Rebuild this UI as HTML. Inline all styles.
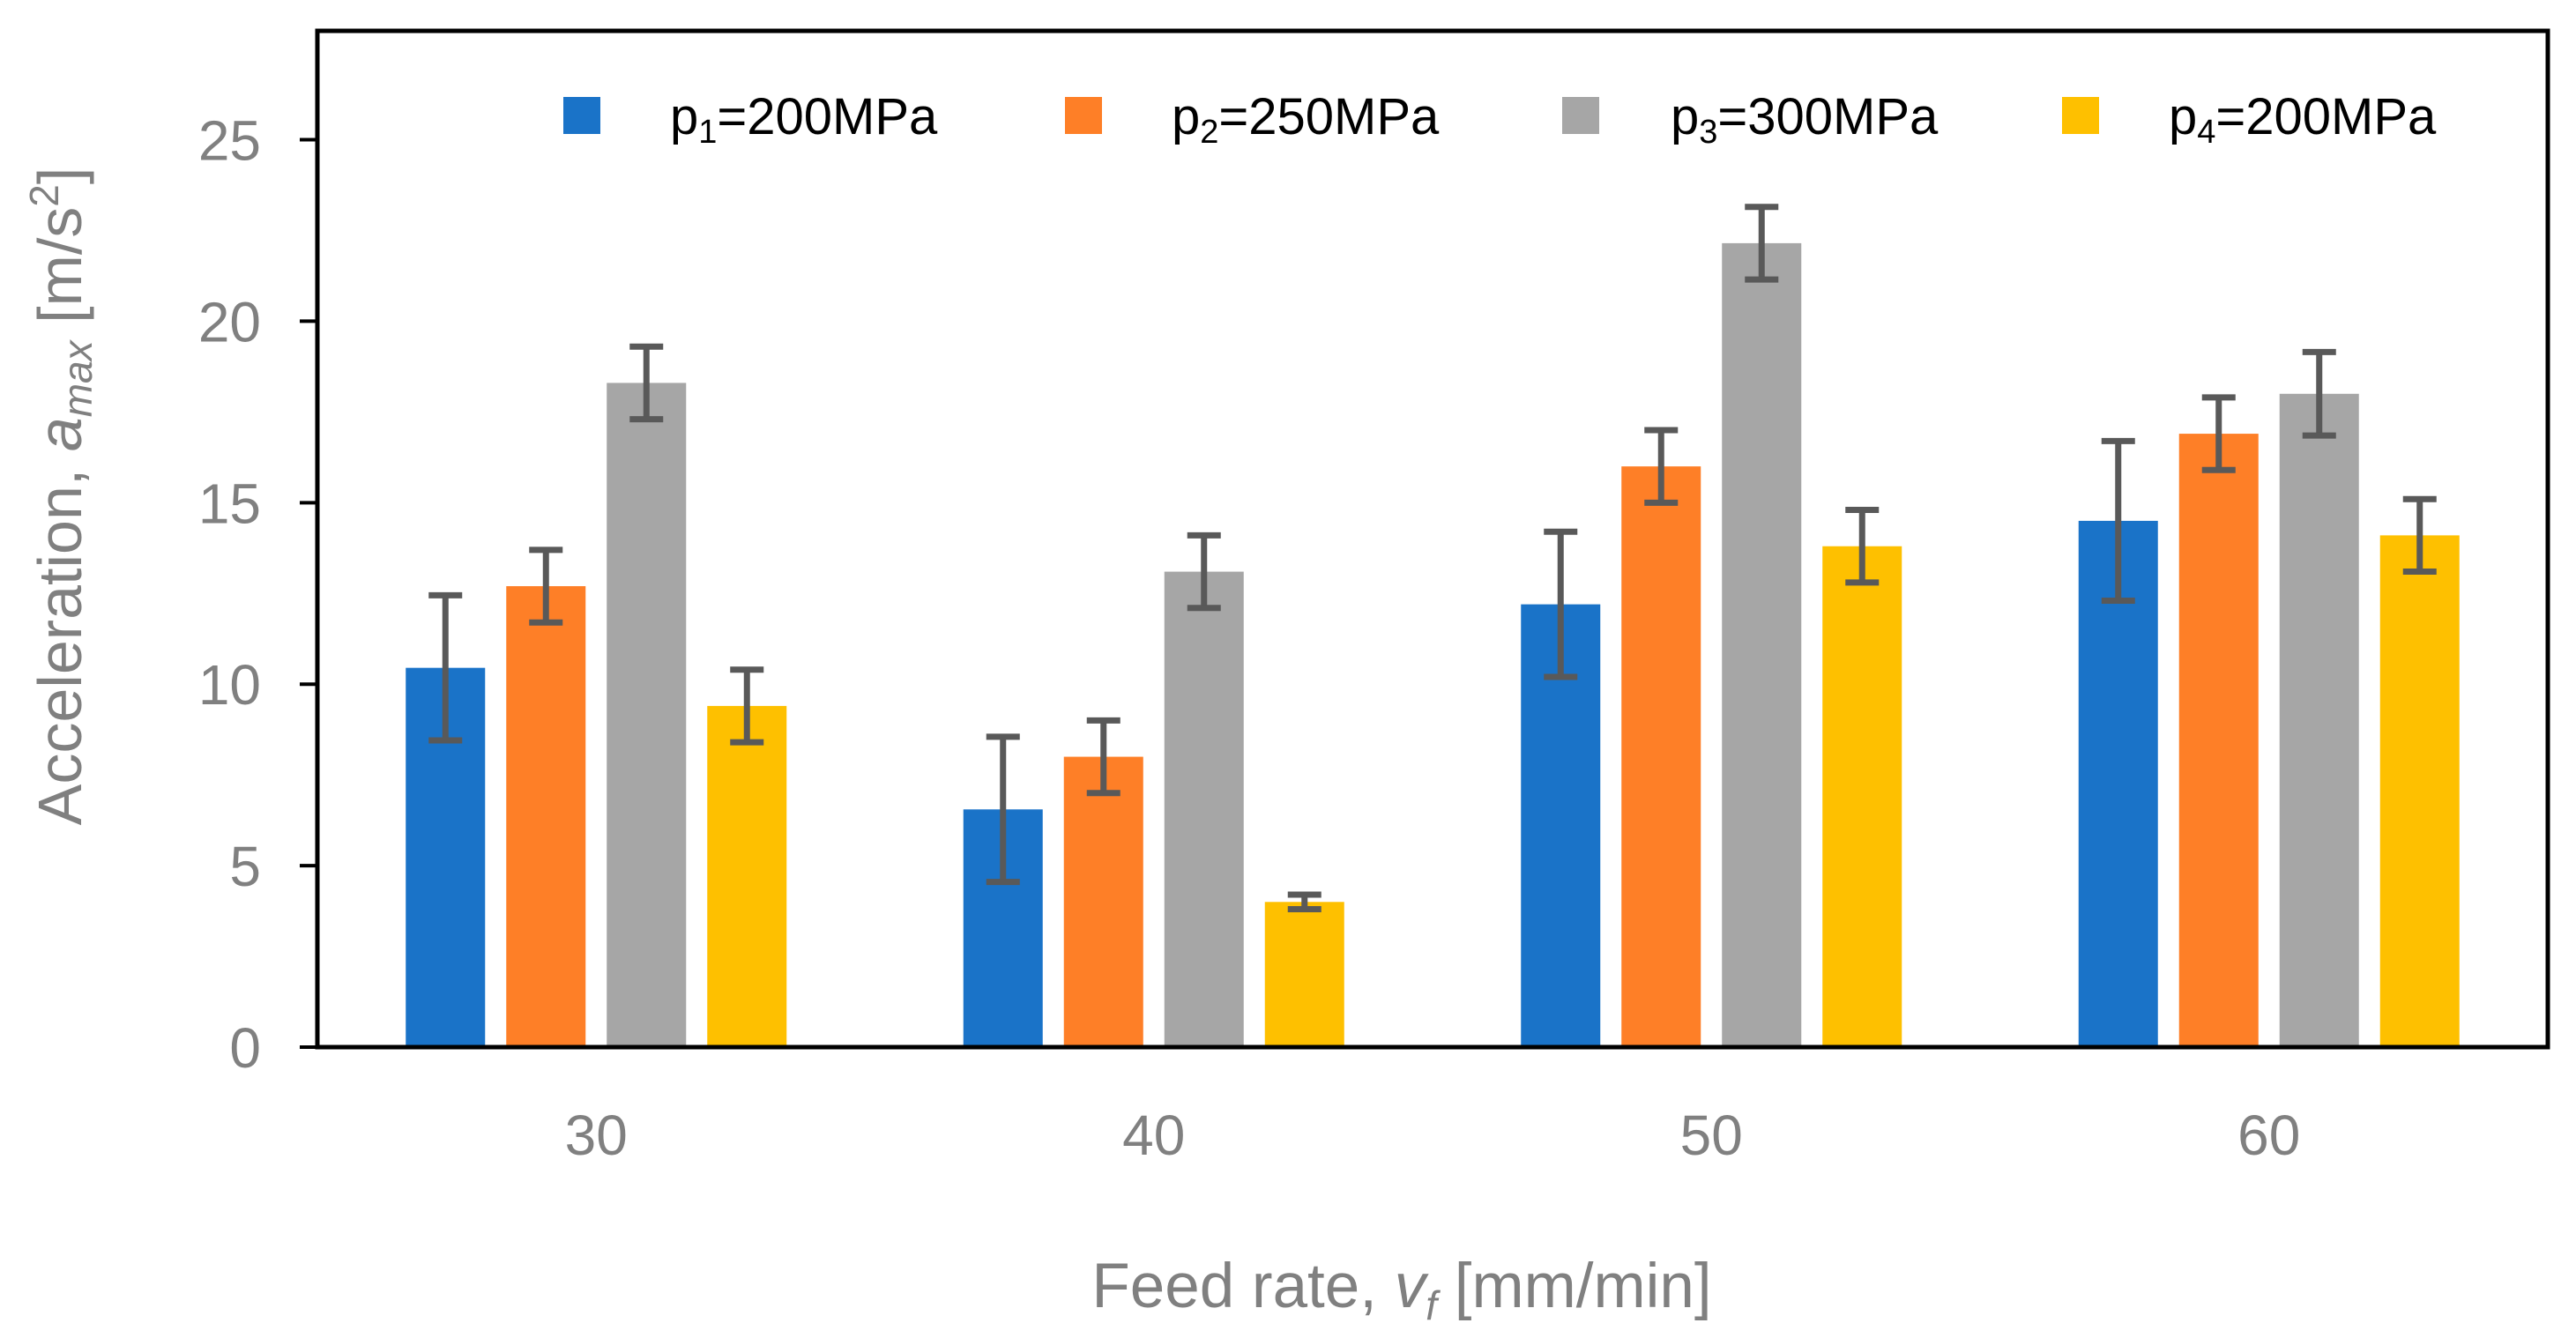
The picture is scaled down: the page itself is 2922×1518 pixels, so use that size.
<!DOCTYPE html>
<html><head><meta charset="utf-8"><style>
html,body{margin:0;padding:0;background:#fff;}
svg{display:block;font-family:"Liberation Sans",sans-serif;}
</style></head><body>
<svg id="chart" width="2922" height="1518" viewBox="0 0 2922 1518" xmlns="http://www.w3.org/2000/svg">
<g id="bars"></g>
<g id="errs"></g>
<g id="axes"></g>
<g id="legend"></g>
<text transform="translate(92,563) rotate(-90)" text-anchor="middle" font-size="70" fill="#808080">Acceleration, <tspan font-style="italic">a</tspan><tspan font-style="italic" font-size="46" dy="12">max</tspan><tspan dy="-12"> [m/s</tspan><tspan font-size="46" dy="-26">2</tspan><tspan dy="26">]</tspan></text>
<text x="1590" y="1483" text-anchor="middle" font-size="71" fill="#808080">Feed rate, <tspan font-style="italic">v</tspan><tspan font-style="italic" font-size="46" dy="14">f</tspan><tspan dy="-14"> [mm/min]</tspan></text>
</svg>
<script>
const categories = ["30","40","50","60"];
const seriesNames = ["p1=200MPa","p2=250MPa","p3=300MPa","p4=200MPa"];
const seriesSub = ["1","2","3","4"];
const seriesRest = ["=200MPa","=250MPa","=300MPa","=200MPa"];
const p1Values = [10.45, 6.55, 12.2, 14.5];
const p2Values = [12.7, 8.0, 16.0, 16.9];
const p3Values = [18.3, 13.1, 22.15, 18.0];
const p4Values = [9.4, 4.0, 13.8, 14.1];
const p1Err = [2.0, 2.0, 2.0, 2.2];
const p2Err = [1.0, 1.0, 1.0, 1.0];
const p3Err = [1.0, 1.0, 1.0, 1.15];
const p4Err = [1.0, 0.2, 1.0, 1.0];
const yTicks = [0, 5, 10, 15, 20, 25];
const yMax = 28;

const colors = ["#1a73c8","#fe7f27","#a6a6a6","#fec000"];
const values = [p1Values,p2Values,p3Values,p4Values];
const errs = [p1Err,p2Err,p3Err,p4Err];
const L=360,R=2890,T=35,B=1188;
const NS="http://www.w3.org/2000/svg";
const y = v => B - (v/yMax)*(B-T);
const catW=(R-L)/categories.length;
const xc = i => L + catW*(i+0.5);
const barW=90, step=114;
function mk(tag,attrs,parent){const e=document.createElementNS(NS,tag);for(const k in attrs)e.setAttribute(k,attrs[k]);parent.appendChild(e);return e;}
const gb=document.getElementById('bars'), ge=document.getElementById('errs'), ga=document.getElementById('axes'), gl=document.getElementById('legend');
categories.forEach((c,i)=>{
  values.forEach((s,j)=>{
    const cx = xc(i) + (j-1.5)*step;
    const r=mk('rect',{x:cx-barW/2,y:y(s[i]),width:barW,height:B-y(s[i]),fill:colors[j]},gb);
    
    
    const e=errs[j][i];
    const g=mk('g',{stroke:'#595959','stroke-width':7,fill:'none'},ge);
    
    
    mk('line',{x1:cx,x2:cx,y1:y(s[i]+e),y2:y(s[i]-e)},g);
    mk('line',{x1:cx-19,x2:cx+19,y1:y(s[i]+e),y2:y(s[i]+e)},g);
    mk('line',{x1:cx-19,x2:cx+19,y1:y(s[i]-e),y2:y(s[i]-e)},g);
  });
  const t=mk('text',{x:xc(i),y:1310,'text-anchor':'middle','font-size':64,fill:'#808080'},ga);
  t.textContent=c;
  
  
});
const frame=mk('rect',{x:L,y:T,width:R-L,height:B-T,fill:'none',stroke:'#000','stroke-width':5},ga);


yTicks.forEach(v=>{
  mk('line',{x1:340,x2:L,y1:y(v),y2:y(v),stroke:'#000','stroke-width':4},ga);
  const t=mk('text',{x:296,y:y(v)+23,'text-anchor':'end','font-size':64,fill:'#808080'},ga);
  t.textContent=v;
  
  
});
const legSq=[639,1208,1772,2339], legTx=[760,1329,1895,2460];
seriesNames.forEach((n,j)=>{
  const sq=mk('rect',{x:legSq[j],y:110,width:42,height:42,fill:colors[j]},gl);
  
  
  const t=mk('text',{x:legTx[j],y:152,'font-size':58,fill:'#000'},gl);
  
  
  const a=mk('tspan',{},t);a.textContent='p';
  const b=mk('tspan',{'font-size':38,dy:10},t);b.textContent=seriesSub[j];
  const c=mk('tspan',{dy:-10},t);c.textContent=seriesRest[j];
});
</script>
</body></html>
